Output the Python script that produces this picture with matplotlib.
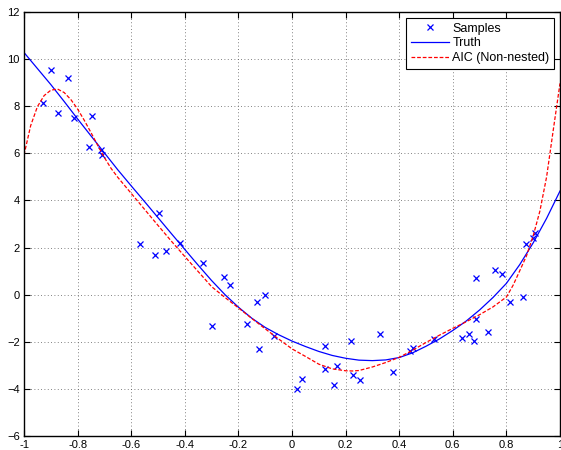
import matplotlib
matplotlib.use('Agg')
import matplotlib.pyplot as plt

# noisy samples
sample_x = [-0.929, -0.900, -0.873, -0.836, -0.813, -0.757, -0.746, -0.713, -0.709,
            -0.496, -0.568, -0.510, -0.469, -0.418, -0.333, -0.255, -0.232, -0.102,
            -0.131, -0.299, -0.168, -0.066, -0.124, 0.020,
            0.037, 0.122, 0.122, 0.157, 0.169, 0.220, 0.229, 0.254, 0.328, 0.376,
            0.440, 0.453, 0.531, 0.634, 0.659, 0.679, 0.686,
            0.731, 0.685, 0.756, 0.785, 0.812, 0.862, 0.873, 0.898, 0.908]
sample_y = [8.14, 9.54, 7.71, 9.20, 7.50, 6.27, 7.59, 6.14, 5.93,
            3.47, 2.17, 1.70, 1.84, 2.18, 1.35, 0.77, 0.43, -0.03,
            -0.30, -1.31, -1.24, -1.77, -2.30, -4.00,
            -3.58, -2.18, -3.14, -3.83, -3.04, -1.98, -3.41, -3.63, -1.65, -3.27,
            -2.39, -2.27, -1.87, -1.85, -1.67, -1.96, -1.03,
            -1.60, 0.70, 1.05, 0.89, -0.32, -0.10, 2.14, 2.42, 2.62]

# true function, read every 0.05
truth_x = [-1.00, -0.95, -0.90, -0.85, -0.80, -0.75, -0.70, -0.65, -0.60, -0.55,
           -0.50, -0.45, -0.40, -0.35, -0.30, -0.25, -0.20, -0.15, -0.10, -0.05,
           0.00, 0.05, 0.10, 0.15, 0.20, 0.25, 0.30, 0.35, 0.40, 0.45,
           0.50, 0.55, 0.60, 0.65, 0.70, 0.75, 0.80, 0.85, 0.90, 0.95, 1.00]
truth_y = [10.28, 9.60, 8.92, 8.20, 7.46, 6.74, 6.02, 5.30, 4.62, 3.95,
           3.27, 2.59, 1.92, 1.25, 0.60, 0.00, -0.53, -1.00, -1.39, -1.70,
           -1.97, -2.20, -2.41, -2.58, -2.70, -2.78, -2.80, -2.77, -2.67, -2.47,
           -2.19, -1.88, -1.52, -1.12, -0.65, -0.12, 0.48, 1.28, 2.20, 3.24, 4.40]

# AIC fit (non-nested)
aic_x = [-1.000, -0.975, -0.950, -0.925, -0.900, -0.875, -0.850, -0.825, -0.800,
         -0.775, -0.750, -0.725, -0.700, -0.675, -0.650, -0.600, -0.550, -0.500,
         -0.450, -0.400, -0.350, -0.300, -0.250, -0.200, -0.150, -0.100, -0.050,
         0.000, 0.050, 0.100, 0.150, 0.200, 0.225, 0.250, 0.300, 0.350, 0.400,
         0.450, 0.500, 0.550, 0.600, 0.650, 0.700, 0.750, 0.800, 0.825, 0.850,
         0.875, 0.900, 0.925, 0.950, 0.975, 1.000]
aic_y = [5.93, 7.18, 7.98, 8.45, 8.68, 8.73, 8.58, 8.28, 7.88,
         7.40, 6.88, 6.34, 5.82, 5.36, 4.98, 4.30, 3.62, 2.94,
         2.27, 1.62, 0.98, 0.34, -0.12, -0.56, -1.01, -1.45, -1.88,
         -2.30, -2.62, -2.95, -3.15, -3.23, -3.24, -3.22, -3.07, -2.88, -2.66,
         -2.36, -2.03, -1.72, -1.43, -1.15, -0.85, -0.52, -0.10, 0.40, 1.02,
         1.65, 2.50, 3.55, 5.00, 7.00, 8.97]


def main():
    plt.rcParams['font.family'] = ['Liberation Sans', 'DejaVu Sans']
    fig = plt.figure(figsize=(5.61, 4.50), dpi=100)
    ax = fig.add_axes([24 / 561, 14 / 450, 536 / 561, 424 / 450])

    ax.plot(sample_x, sample_y, 'x', color='#0000ff', markersize=5, markeredgewidth=0.9,
            label='Samples')
    ax.plot(truth_x, truth_y, '-', color='#0000ff', linewidth=0.9, label='Truth')
    ax.plot(aic_x, aic_y, color='#ff0000', linewidth=0.9, dashes=(3, 1.5),
            label='AIC (Non-nested)')

    ax.set_xlim(-1, 1)
    ax.set_ylim(-6, 12)
    ax.set_xticks([-1, -0.8, -0.6, -0.4, -0.2, 0, 0.2, 0.4, 0.6, 0.8, 1])
    ax.set_xticklabels(['-1', '-0.8', '-0.6', '-0.4', '-0.2', '0', '0.2', '0.4', '0.6', '0.8', '1'])
    ax.set_yticks(range(-6, 13, 2))
    ax.tick_params(direction='in', top=True, right=True, length=4, width=0.8,
                   labelsize=8, pad=3)
    for sp in ax.spines.values():
        sp.set_linewidth(1.0)

    ax.grid(True, color='0.35', linestyle=(0, (1, 3)), linewidth=0.6)

    leg = ax.legend(loc='upper right', fontsize=9, borderaxespad=0.45,
                    handlelength=3.0, handletextpad=0.3, labelspacing=0.22,
                    borderpad=0.4, fancybox=False, framealpha=1)
    leg.get_frame().set_edgecolor('k')
    leg.get_frame().set_linewidth(0.8)

    fig.savefig('out.png', dpi=100, facecolor='w')
    plt.close('all')


if __name__ == '__main__':
    main()
